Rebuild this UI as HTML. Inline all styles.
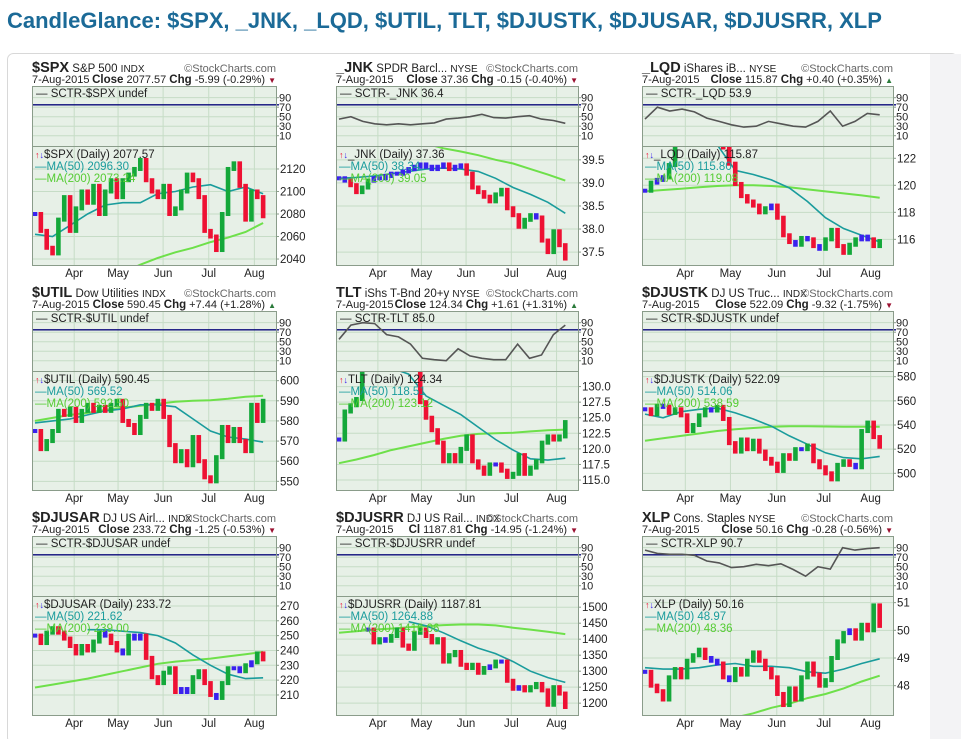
<!DOCTYPE html>
<html><head><meta charset="utf-8">
<style>
html,body{margin:0;padding:0;background:#fff;}
body{width:961px;height:739px;overflow:hidden;font-family:"Liberation Sans",sans-serif;}
svg text{font-family:"Liberation Sans",sans-serif;}
</style></head>
<body>
<svg id="page" width="961" height="739" viewBox="0 0 961 739" xmlns="http://www.w3.org/2000/svg">
<rect x="0" y="0" width="961" height="739" fill="#ffffff"/>
<rect x="7.5" y="53.5" width="950" height="690" rx="6" fill="none" stroke="#d8d8d8"/>
<rect x="930" y="54" width="31" height="685" fill="#f3f3f5"/>
<text x="7" y="28" font-size="22" font-weight="bold" fill="#1b6a97">CandleGlance: $SPX, _JNK, _LQD, $UTIL, TLT, $DJUSTK, $DJUSAR, $DJUSRR, XLP</text>
<g id="charts"></g>
</svg>
<script>
// ===== data arrays =====
const months = ["Apr","May","Jun","Jul","Aug"];
const monthIdx = [6.7,14.2,21.9,29.7,37.5];
const sctrTicks = [90,70,50,30,10];

const spxClose = [2080,2065,2050,2045,2075,2095,2065,2085,2100,2090,2105,2080,2100,2110,2095,2110,2115,2120,2128,2110,2100,2095,2105,2080,2085,2100,2115,2110,2095,2065,2060,2048,2080,2120,2125,2105,2075,2100,2095,2078];
const spxMa50 = [2062,2060,2070,2080,2088,2090,2090,2098,2100,2104,2106,2100,2104,2098];
const spxMa200 = [1990,1997,2005,2012,2020,2028,2035,2041,2046,2050,2055,2059,2064,2072];
const spxTicks = [2120,2100,2080,2060,2040];

const jnkClose = [39.1,39.05,38.95,38.8,38.9,39.05,39.1,39.1,39.15,39.2,39.2,39.25,39.3,39.35,39.4,39.35,39.3,39.35,39.4,39.3,39.35,39.38,39.2,38.9,38.8,38.7,38.6,38.75,38.85,38.45,38.3,38.05,38.2,38.3,38.25,37.75,37.5,37.95,37.65,37.36];
const jnkMa50 = [39.1,39.12,39.15,39.2,39.25,39.3,39.32,39.3,39.25,39.1,38.9,38.75,38.58,38.34];
const jnkMa200 = [40.2,40.1,40.05,40.0,39.95,39.85,39.75,39.68,39.6,39.5,39.42,39.3,39.18,39.05];
const jnkSctr = [45,50,40,35,33,35,33,35,37,45,47,50,55,48,47,50,52,45,42,36];
const jnkTicks = [39.5,39.0,38.5,38.0,37.5];

const lqdClose = [119.6,120.2,120.4,120.6,121.5,123.3,123.4,123.5,123.4,123.3,123.4,123.5,123.4,122.8,121.6,120.1,119.2,118.8,118.5,118.0,118.3,118.5,117.6,116.3,115.8,115.6,116.1,116.0,115.5,115.3,116.0,116.7,115.5,115.0,115.6,116.0,116.2,116.0,115.5,115.87];
const lqdMa50 = [123.5,123.4,123.3,123.1,123.0,121.1,120.8,120.4,119.8,118.8,117.6,116.8,116.3,115.8];
const lqdMa200 = [119.55,119.65,119.75,119.85,119.95,120.0,120.0,119.95,119.85,119.7,119.55,119.4,119.25,119.08];
const lqdSctr = [45,70,62,66,60,47,40,33,28,30,40,35,30,28,40,62,30,40,57,54];
const lqdTicks = [122,120,118,116];

const utilClose = [575,566,570,575,585,583,586,580,585,588,585,587,585,588,590,580,578,574,582,588,586,590,582,568,560,565,558,572,560,552,550,562,577,570,576,570,565,588,580,590];
const utilMa50 = [579,580,581,583,585,586,588,588,587,581,575,572,571,569.5];
const utilMa200 = [580,581.5,583,584,585.5,586.5,587.5,588.5,589.5,590,590.3,591,592,592.5];
const utilTicks = [600,590,580,570,560,550];

const tltClose = [121.5,126,127,128,134,134,134,134,134,134,134,134,134,134,127.5,125,123,121,118,119,118,120,122,118,117,116,117.5,117.5,116.5,115.5,116,119,116,117,118,121,122,121.5,122,124.3];
const tltMa50 = [134,134,133.5,133,132,128.5,127,125.5,123.5,121.5,119.8,118.4,118.2,118.5];
const tltMa200 = [117.7,118.3,119,119.8,120.4,121,121.6,122.1,122.4,122.5,122.6,122.8,123.0,123.1];
const tltSctr = [55,85,90,88,65,60,45,15,12,10,35,20,15,12,12,45,15,22,65,85];
const tltTicks = [130,127.5,125,122.5,120,117.5,115];

const trkClose = [553,549,556,555,550,553,548,535,540,548,553,552,555,545,525,518,528,520,527,518,512,508,502,515,512,520,520,523,510,505,500,495,507,510,507,505,535,542,530,522];
const trkMa50 = [549,546,551,553,554,550,545,539,531,524,517,513,512,514];
const trkMa200 = [527,529,531,533,535,536.5,537.5,538.5,539,539,538.8,538.6,538.6,538.6];
const trkTicks = [580,560,540,520,500];

const airClose = [250,245,252,255,252,248,243,238,243,240,246,252,250,245,240,238,250,248,250,235,222,218,225,228,212,214,212,222,226,218,210,208,218,228,228,226,230,232,238,234];
const airMa50 = [null,null,null,254,254,253,252,250,245,237,230,224,221,221.6];
const airMa200 = [215,217,219,221,223.5,226,228.5,231,232.5,233.5,234.5,236,237.5,239];
const airTicks = [270,260,250,240,230,220,210];

const railClose = [null,null,null,null,null,1430,1390,1400,1395,1410,1430,1380,1370,1420,1430,1410,1390,1400,1330,1350,1360,1320,1310,1320,1295,1310,1315,1330,1330,1270,1245,1250,1240,1250,1260,1240,1195,1250,1230,1188];
const railMa50 = [null,null,null,null,1455,1442,1420,1395,1372,1355,1330,1300,1280,1265];
const railMa200 = [1420,1425,1430,1433,1437,1441,1444,1446,1446,1443,1436,1430,1423,1416];
const railTicks = [1500,1450,1400,1350,1300,1250,1200];

const xlpClose = [48.5,48.0,47.8,47.5,48.3,48.6,48.3,48.9,49.1,49.3,49.0,48.9,48.8,48.3,48.2,48.6,48.4,48.9,49.2,48.9,48.6,48.3,47.7,47.3,47.9,47.5,48.3,48.8,48.4,48.0,48.2,49.0,49.6,49.9,50.0,49.7,50.2,50.0,50.9,50.16];
const xlpMa50 = [48.65,48.6,48.6,48.65,48.75,48.8,48.7,48.7,48.65,48.5,48.45,48.6,48.8,48.97];
const xlpMa200 = [46.0,46.2,46.4,46.6,46.75,46.85,47.0,47.2,47.35,47.55,47.7,47.9,48.15,48.36];
const xlpSctr = [85,78,76,76,74,62,58,48,50,55,52,56,44,30,50,45,90,85,88,90];
const xlpTicks = [51,50,49,48];

// ===== chart definitions =====
const charts = [
 {id:"spx",tk:"$SPX",nm:"S&P 500",ex:"INDX",cl:"2077.57",clLbl:"Close",chg:"-5.99 (-0.29%)",up:false,c:spxClose,m50:spxMa50,m200:spxMa200,s:null,sl:"SCTR-$SPX undef",ticks:spxTicks,top:2140.4,bot:2034.7,fmt:0,m50v:"2096.30",m200v:"2073.24"},
 {id:"jnk",tk:"_JNK",nm:"SPDR Barcl...",ex:"NYSE",cl:"37.36",clLbl:"Close",chg:"-0.15 (-0.40%)",up:false,c:jnkClose,m50:jnkMa50,m200:jnkMa200,s:jnkSctr,sl:"SCTR-_JNK 36.4",ticks:jnkTicks,top:39.8,bot:37.22,fmt:1,m50v:"38.34",m200v:"39.05"},
 {id:"lqd",tk:"_LQD",nm:"iShares iB...",ex:"NYSE",cl:"115.87",clLbl:"Close",chg:"+0.40 (+0.35%)",up:true,c:lqdClose,m50:lqdMa50,m200:lqdMa200,s:lqdSctr,sl:"SCTR-_LQD 53.9",ticks:lqdTicks,top:122.91,bot:114.1,fmt:0,m50v:"115.80",m200v:"119.08"},
 {id:"util",tk:"$UTIL",nm:"Dow Utilities",ex:"INDX",cl:"590.45",clLbl:"Close",chg:"+7.44 (+1.28%)",up:true,c:utilClose,m50:utilMa50,m200:utilMa200,s:null,sl:"SCTR-$UTIL undef",ticks:utilTicks,top:604.8,bot:545.7,fmt:0,m50v:"569.52",m200v:"592.50"},
 {id:"tlt",tk:"TLT",nm:"iShs T-Bnd 20+y",ex:"NYSE",cl:"124.34",clLbl:"Close",chg:"+1.61 (+1.31%)",up:true,c:tltClose,m50:tltMa50,m200:tltMa200,s:tltSctr,sl:"SCTR-TLT 85.0",ticks:tltTicks,top:132.5,bot:113.4,fmt:1,m50v:"118.51",m200v:"123.12"},
 {id:"djustk",tk:"$DJUSTK",nm:"DJ US Truc...",ex:"INDX",cl:"522.09",clLbl:"Close",chg:"-9.32 (-1.75%)",up:false,c:trkClose,m50:trkMa50,m200:trkMa200,s:null,sl:"SCTR-$DJUSTK undef",ticks:trkTicks,top:584.7,bot:486.2,fmt:0,m50v:"514.06",m200v:"538.59"},
 {id:"djusar",tk:"$DJUSAR",nm:"DJ US Airl...",ex:"INDX",cl:"233.72",clLbl:"Close",chg:"-1.25 (-0.53%)",up:false,c:airClose,m50:airMa50,m200:airMa200,s:null,sl:"SCTR-$DJUSAR undef",ticks:airTicks,top:276.7,bot:196.5,fmt:0,m50v:"221.62",m200v:"239.00"},
 {id:"djusrr",tk:"$DJUSRR",nm:"DJ US Rail...",ex:"INDX",cl:"1187.81",clLbl:"Cl",chg:"-14.95 (-1.24%)",up:false,c:railClose,m50:railMa50,m200:railMa200,s:null,sl:"SCTR-$DJUSRR undef",ticks:railTicks,top:1535,bot:1163,fmt:0,m50v:"1264.88",m200v:"1416.06"},
 {id:"xlp",tk:"XLP",nm:"Cons. Staples",ex:"NYSE",cl:"50.16",clLbl:"Close",chg:"-0.28 (-0.56%)",up:false,c:xlpClose,m50:xlpMa50,m200:xlpMa200,s:xlpSctr,sl:"SCTR-XLP 90.7",ticks:xlpTicks,top:51.24,bot:46.94,fmt:0,m50v:"48.97",m200v:"48.36"}
];
const colX = [32,336,642], colW = [244,242,251], rowTop = [86,311,536];

const NS = "http://www.w3.org/2000/svg";
const root = document.getElementById("charts");
function mk(tag, attrs, parent, txt){
  const e = document.createElementNS(NS, tag);
  for (const k in attrs) e.setAttribute(k, attrs[k]);
  if (txt !== undefined) e.textContent = txt;
  (parent||root).appendChild(e);
  return e;
}
const BG="#e7f0e7", GRID="#c6dcc6", BORDER="#8a9c8a", TEAL="#1a9c9c", LIME="#6ee04a", RED="#ee1133", GRN="#14a83a", BLU="#3a22ee";

charts.forEach((ch, k) => {
  const x0 = colX[k%3], w = colW[k%3], st = rowTop[Math.floor(k/3)];
  const pt = st + 60, pb = st + 179, x1 = x0 + w;
  const g = mk("g", {});
  
  
  const xAt = i => x0 + 3 + i * (w * 0.935) / 39;
  const yP = v => pt + (ch.top - v) / (ch.top - ch.bot) * (pb - pt);
  const yS = v => st + (114.6 - v) / (114.6 + 11.7) * 60;

  // header
  const h1 = mk("text", {x:x0, y:st-14, "font-size":"11.5", fill:"#222"}, g);
  
  
  mk("tspan", {"font-weight":"bold","font-size":"14.5"}, h1, ch.tk);
  mk("tspan", {}, h1, " " + ch.nm + " ");
  mk("tspan", {"font-size":"10"}, h1, ch.ex);
  const wm = mk("text", {x:x1, y:st-14, "font-size":"11", fill:"#666", "text-anchor":"end"}, g, "\u00A9StockCharts.com");
  
  
  const dd = mk("text", {x:x0, y:st-3, "font-size":"11", fill:"#222"}, g, "7-Aug-2015");
  
  
  const dr = mk("text", {x:x1, y:st-3, "font-size":"11", fill:"#222", "text-anchor":"end"}, g);
  
  
  mk("tspan", {"font-weight":"bold","font-size":"11.5"}, dr, ch.clLbl);
  mk("tspan", {}, dr, " " + ch.cl + " ");
  mk("tspan", {"font-weight":"bold","font-size":"11.5"}, dr, "Chg");
  mk("tspan", {}, dr, " " + ch.chg + " ");
  mk("tspan", {fill: ch.up ? "#2a7a3a" : "#9a1030","font-size":"8"}, dr, ch.up ? "\u25B2" : "\u25BC");

  // panel backgrounds
  const sp = mk("rect", {x:x0, y:st, width:w, height:60, fill:BG}, g);
  
  
  const pp = mk("rect", {x:x0, y:pt, width:w, height:pb-pt, fill:BG}, g);
  
  

  // vertical grid
  monthIdx.forEach((mi, j) => {
    const X = xAt(mi);
    mk("line", {x1:X, x2:X, y1:st, y2:pb, stroke:GRID, "stroke-width":1}, g);
    const ml = mk("text", {x:X, y:pb+12, "font-size":"11.5", fill:"#222", "text-anchor":"middle"}, g, months[j]);
    
    
  });
  // sctr grid and ticks
  sctrTicks.forEach(v => {
    const Y = yS(v);
    mk("line", {x1:x0, x2:x1, y1:Y, y2:Y, stroke:GRID}, g);
    mk("line", {x1:x1, x2:x1+3, y1:Y, y2:Y, stroke:BORDER}, g);
    const t = mk("text", {x:x1+3, y:Y+4, "font-size":"11", fill:"#222"}, g, String(v));
    
    
  });
  // price grid and ticks
  ch.ticks.forEach(v => {
    const Y = yP(v);
    mk("line", {x1:x0, x2:x1, y1:Y, y2:Y, stroke:GRID}, g);
    mk("line", {x1:x1, x2:x1+3, y1:Y, y2:Y, stroke:BORDER}, g);
    const t = mk("text", {x:x1+4, y:Y+4, "font-size":"11.5", fill:"#222"}, g, v.toFixed(ch.fmt));
    
    
  });
  // 70 line
  const hl = mk("line", {x1:x0, x2:x1+3, y1:yS(75), y2:yS(75), stroke:"#0a0a7a", "stroke-width":1.3}, g);
  
  

  // clip paths
  const cid = "clip-" + ch.id;
  const cp = mk("clipPath", {id:cid}, g);
  mk("rect", {x:x0, y:pt, width:w, height:pb-pt}, cp);
  const sid = "sclip-" + ch.id;
  const sp2 = mk("clipPath", {id:sid}, g);
  mk("rect", {x:x0, y:st, width:w, height:60}, sp2);

  // sctr line
  if (ch.s) {
    const n = ch.s.length;
    const d = ch.s.map((v, i) => (i ? "L" : "M") + xAt(i * 39 / (n - 1)).toFixed(1) + "," + yS(v).toFixed(1)).join("");
    const sl = mk("path", {d:d, fill:"none", stroke:"#555", "stroke-width":1.6, "clip-path":"url(#"+sid+")"}, g);
    
    
  }
  // MA lines
  const maPath = arr => {
    const n = arr.length; let d = "", pen = false;
    arr.forEach((v, i) => {
      if (v === null) { pen = false; return; }
      d += (pen ? "L" : "M") + xAt(i * 39 / (n - 1)).toFixed(1) + "," + yP(v).toFixed(1);
      pen = true;
    });
    return d;
  };
  const m2 = mk("path", {d:maPath(ch.m200), fill:"none", stroke:LIME, "stroke-width":2, "clip-path":"url(#"+cid+")"}, g);
  
  
  const m1 = mk("path", {d:maPath(ch.m50), fill:"none", stroke:TEAL, "stroke-width":1.6, "clip-path":"url(#"+cid+")"}, g);
  
  

  // bars
  const bw = 4.6;
  ch.c.forEach((v, i) => {
    if (v === null) return;
    const prev = (i > 0 && ch.c[i-1] !== null) ? ch.c[i-1] : v;
    const ya = yP(prev), yb = yP(v);
    const dy = ya - yb;
    const col = Math.abs(dy) < 3 ? BLU : (dy > 0 ? GRN : RED);
    const top = Math.min(ya, yb) - 2, hgt = Math.abs(dy) + 4;
    const b = mk("rect", {x:xAt(i) - bw/2, y:top, width:bw, height:hgt, fill:col, "clip-path":"url(#"+cid+")"}, g);
    
    
  });

  // borders
  mk("rect", {x:x0+0.5, y:st+0.5, width:w, height:60, fill:"none", stroke:BORDER}, g);
  mk("rect", {x:x0+0.5, y:pt+0.5, width:w, height:pb-pt, fill:"none", stroke:BORDER}, g);

  // legends
  const sLeg = mk("text", {x:x0+4, y:st+11, "font-size":"11.5", fill:"#222"}, g, "\u2014 " + ch.sl);
  
  
  const l1 = mk("text", {x:x0+3, y:pt+12, "font-size":"11.5", fill:"#222"}, g);
  
  
  mk("tspan", {fill:RED,"font-size":"9"}, l1, "\u2191");
  mk("tspan", {fill:BLU,"font-size":"9"}, l1, "\u2193");
  mk("tspan", {}, l1, ch.tk + " (Daily) " + ch.cl);
  const l2 = mk("text", {x:x0+3, y:pt+24, "font-size":"11.5", fill:TEAL}, g, "\u2014MA(50) " + ch.m50v);
  
  
  const l3 = mk("text", {x:x0+3, y:pt+36, "font-size":"11.5", fill:"#55cc33"}, g, "\u2014MA(200) " + ch.m200v);
  
  
});
</script>
</body></html>
